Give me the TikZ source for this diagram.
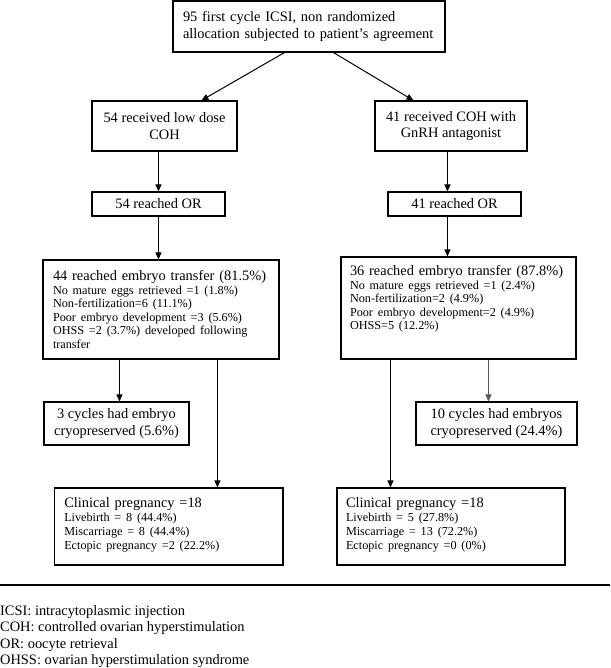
\documentclass[tikz,border=0pt]{standalone}
\usepackage{fontspec}
\setmainfont{Liberation Serif}
\usetikzlibrary{arrows.meta,calc}
\newcommand\mainsz{\fontsize{14.4}{16.8}\selectfont}
\newcommand\smsz{\fontsize{12.2}{13.5}\selectfont}
\newcommand\bottompad[1]{\par\vskip#1\hrule height0pt width0pt}
\begin{document}
\begin{tikzpicture}[x=1pt,y=-1pt,
  bx/.style={draw, line width=1.1pt, rectangle, inner ysep=0pt, font=\mainsz},
  bxc/.style={bx, align=center},
  bxl/.style={bx, align=left},
  arr/.style={line width=1pt, -{Triangle[length=7pt,width=6pt]}},
  leg/.style={inner sep=0pt, font=\mainsz, anchor=base west}]
\useasboundingbox (0,0) rectangle (610,668);

\node[bxl, minimum width=272pt, minimum height=51pt, text width=252pt, inner xsep=10pt] (top) at (309,26.5)
  {95 first cycle ICSI, non randomized\\allocation subjected to patient’s agreement};

\node[bxc, minimum width=145pt, minimum height=50pt] (b2L) at (164.5,126) {54 received low dose\\COH};
\node[bxc, minimum width=152pt, minimum height=50pt] (b2R) at (451,126) {41 received COH with\\GnRH antagonist};

\node[bxc, minimum width=133pt, minimum height=24pt] (orL) at (158.5,204) {54 reached OR};
\node[bxc, minimum width=133pt, minimum height=24pt] (orR) at (454.5,204) {41 reached OR};

\node[bx, minimum width=236pt, minimum height=99pt, text width=216pt, inner xsep=10pt] (trL) at (161,309.5)
  {\raggedright{\mainsz 44 reached embryo transfer (81.5\%)\par}
   {\smsz No mature eggs retrieved =1 (1.8\%)\par
   Non-fertilization=6 (11.1\%)\par
   Poor embryo development =3 (5.6\%)\par
   OHSS =2 (3.7\%) developed following\par
   transfer\par}};
\node[bx, minimum width=235pt, minimum height=102pt, text width=217pt, inner xsep=9pt] (trR) at (458.5,308)
  {\raggedright{\mainsz 36 reached embryo transfer (87.8\%)\par}
   {\smsz No mature eggs retrieved =1 (2.4\%)\par
   Non-fertilization=2 (4.9\%)\par
   Poor embryo development=2 (4.9\%)\par
   OHSS=5 (12.2\%)\par}\bottompad{18pt}};

\node[bxc, minimum width=145pt, minimum height=43pt] (cryoL) at (116.5,423.5) {3 cycles had embryo\\cryopreserved (5.6\%)};
\node[bxc, minimum width=161pt, minimum height=43pt] (cryoR) at (496.5,423.5) {10 cycles had embryos\\cryopreserved (24.4\%)};

\node[bx, minimum width=228.5pt, minimum height=77pt, text width=209pt, inner xsep=9.75pt] (clinL) at (168.75,526.5)
  {\raggedright{\mainsz Clinical pregnancy =18\par}
   {\fontsize{12.2}{14}\selectfont Livebirth = 8 (44.4\%)\par
   Miscarriage = 8 (44.4\%)\par
   Ectopic pregnancy =2 (22.2\%)\par}\bottompad{4pt}};
\node[bx, minimum width=228pt, minimum height=77pt, text width=210pt, inner xsep=9pt] (clinR) at (451,526.5)
  {\raggedright{\mainsz Clinical pregnancy =18\par}
   {\fontsize{12.2}{14}\selectfont Livebirth = 5 (27.8\%)\par
   Miscarriage = 13 (72.2\%)\par
   Ectopic pregnancy =0 (0\%)\par}\bottompad{4pt}};

% connectors
\draw[arr] ($(top.south west)+(112,0)$) -- ($(b2L.north west)+(110,0)$);
\draw[arr] ($(top.south west)+(161,0)$) -- ($(b2R.north west)+(39,0)$);
\draw[arr] ($(b2L.south west)+(67,0)$) -- ($(orL.north west)+(67,0)$);
\draw[arr] ($(b2R.south west)+(73,0)$) -- ($(orR.north west)+(60,0)$);
\draw[arr] ($(orL.south west)+(67,0)$) -- ($(trL.north west)+(116,0)$);
\draw[arr] ($(orR.south west)+(60,0)$) -- ($(trR.north west)+(107,0)$);
\draw[arr] ($(trL.south west)+(77,0)$) -- ($(cryoL.north west)+(76,0)$);
\draw[arr] ($(trL.south west)+(175,0)$) -- ($(clinL.north west)+(163.5,0)$);
\draw[arr] ($(trR.south west)+(50,0)$) -- ($(clinR.north west)+(54,0)$);
\draw[arr, black!65] ($(trR.south west)+(148,0)$) -- ($(cryoR.north west)+(73,0)$);

% separator and legend
\draw[line width=1.2pt] (0,585) -- (610,585);
\node[leg] (l1) at (0,615) {ICSI: intracytoplasmic injection};
\node[leg] (l2) at (0,631.5) {COH: controlled ovarian hyperstimulation};
\node[leg] (l3) at (0,648) {OR: oocyte retrieval};
\node[leg] (l4) at (0,664.5) {OHSS: ovarian hyperstimulation syndrome};
\end{tikzpicture}
\end{document}
